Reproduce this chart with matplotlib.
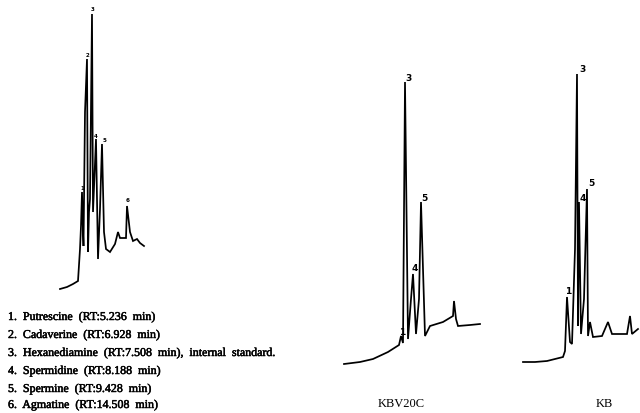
import matplotlib
matplotlib.use("Agg")
import matplotlib.pyplot as plt
import matplotlib.patheffects as pe

# ---- Trace 1: standard mixture (x, y in image units, y downward) ----
std_x = [60, 67, 73, 78, 80, 81, 82, 83, 83.5, 85, 87, 88, 89, 90, 92, 93, 96, 98, 100, 102, 104, 106, 110, 115, 118, 120, 126, 127, 130, 133, 137, 140, 144]
std_y = [290, 288, 285, 282, 250, 227, 193, 233, 247, 113, 60, 253, 213, 200, 15, 213, 140, 260, 210, 145, 233, 250, 253, 245, 233, 239, 239, 207, 233, 242, 240, 244, 247]
std_peak_names = ["1", "2", "3", "4", "5", "6"]
std_peak_x = [82, 87, 93, 96, 104, 128]
std_peak_y = [191, 58, 12, 139, 143, 203]

# ---- Trace 2: KBV20C ----
kbv_x = [344, 360, 373, 388, 399, 401, 403, 405, 408, 411, 413, 416, 419, 421, 425, 430, 443, 453, 454, 456, 458, 470, 480]
kbv_y = [365, 363, 360, 353, 346, 337, 344, 83, 340, 300, 275, 335, 300, 203, 337, 327, 323, 317, 302, 320, 327, 326, 325]
kbv_peak_names = ["1", "3", "4", "5"]
kbv_peak_x = [402, 409, 415, 424]
kbv_peak_y = [337, 83, 273, 203]

# ---- Trace 3: KB ----
kb_x = [523, 535, 547, 563, 565, 567, 570, 572, 575, 577, 578, 579, 581, 584, 587, 588, 590, 593, 602, 608, 612, 627, 630, 632, 638]
kb_y = [363, 363, 362, 358, 352, 298, 343, 345, 250, 75, 327, 203, 335, 300, 190, 337, 323, 338, 337, 323, 335, 335, 317, 335, 330]
kb_peak_names = ["1", "3", "4", "5"]
kb_peak_x = [568, 582, 583, 591]
kb_peak_y = [296, 74, 203, 188]

legend_lines = [
    "1.  Putrescine  (RT:5.236  min)",
    "2.  Cadaverine  (RT:6.928  min)",
    "3.  Hexanediamine  (RT:7.508  min),  internal  standard.",
    "4.  Spermidine  (RT:8.188  min)",
    "5.  Spermine  (RT:9.428  min)",
    "6.  Agmatine  (RT:14.508  min)",
]
panel_names = ["KBV20C", "KB"]
panel_name_x = [401, 604]

fig = plt.figure(figsize=(6.4, 4.14), dpi=100)
ax = fig.add_axes([0, 0, 1, 1])
ax.set_xlim(0, 640)
ax.set_ylim(414, 0)
ax.axis("off")

serif = ["Liberation Serif", "DejaVu Serif"]

for xs, ys in [(std_x, std_y), (kbv_x, kbv_y), (kb_x, kb_y)]:
    ax.plot(xs, ys, color="black", lw=1.25, solid_joinstyle="miter")

for names, px, py, fs in [(std_peak_names, std_peak_x, std_peak_y, 4),
                          (kbv_peak_names, kbv_peak_x, kbv_peak_y, 6.5),
                          (kb_peak_names, kb_peak_x, kb_peak_y, 6.5)]:
    for n, x, y in zip(names, px, py):
        ax.text(x, y, n, fontsize=fs, ha="center", va="bottom",
                family=["DejaVu Sans"], fontweight="bold", color="black")

line_y = [318, 336, 354, 372, 390, 406]
for t, y in zip(legend_lines, line_y):
    ax.text(8, y, t, fontsize=8.6, ha="left", va="center", family=serif,
            color="black",
            path_effects=[pe.withStroke(linewidth=0.35, foreground="black")])

for n, x in zip(panel_names, panel_name_x):
    ax.text(x, 404, n, fontsize=9, ha="center", va="center", family=serif, color="black")

fig.savefig("out.png", dpi=100)
